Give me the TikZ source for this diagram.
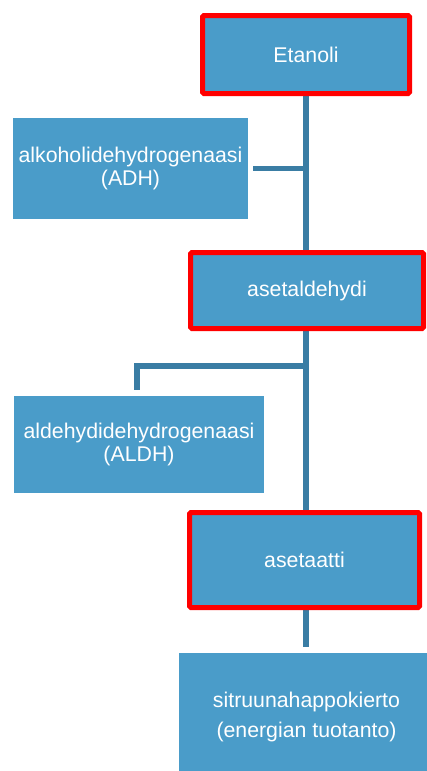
\documentclass[tikz,border=0pt]{standalone}
\usepackage{fontspec}
\setmainfont{Liberation Sans}
\usetikzlibrary{backgrounds}
\definecolor{boxblue}{RGB}{74,156,201}
\definecolor{lineblue}{RGB}{58,125,164}
\definecolor{hired}{RGB}{255,0,0}
\begin{document}
\begin{tikzpicture}[x=1pt,y=-1pt,
  box/.style={fill=boxblue, draw=none, text=white, font=\fontsize{21.3}{23}\selectfont, align=center, inner sep=0pt, anchor=center},
  keybox/.style={box, draw=hired, line width=5pt, rounded corners=1.5pt},
  link/.style={draw=lineblue, line width=5.5pt}]
\useasboundingbox (0,0) rectangle (426,771);
\node[keybox, minimum width=207pt, minimum height=78pt] (etanoli) at (306,54.5) {Etanoli};
\node[box, minimum width=235pt, minimum height=101pt] (adh) at (130.5,168.5) {alkoholidehydrogenaasi\\(ADH)};
\node[keybox, minimum width=233pt, minimum height=76pt] (asetaldehydi) at (307,290.5) {asetaldehydi};
\node[box, minimum width=250pt, minimum height=97pt] (aldh) at (139,444.5) {aldehydidehydrogenaasi\\(ALDH)};
\node[keybox, minimum width=230pt, minimum height=95pt] (asetaatti) at (304.5,560) {asetaatti};
\node[box, minimum width=255pt, minimum height=128pt, font=\fontsize{21.3}{30}\selectfont] (sitruuna) at (306.5,717) {sitruunahappokierto\\(energian tuotanto)};
\begin{scope}[on background layer]
  \coordinate (adhend) at ([xshift=5pt]adh.east);
  \coordinate (aldhtop) at ([xshift=-2pt,yshift=6pt]aldh.north);
  \coordinate (aldhj) at (306,366);
  \draw[link] (etanoli.south) -- (etanoli.south |- asetaldehydi.north);
  \draw[link] (adhend) -- (adhend -| etanoli.south);
  \draw[link] (asetaldehydi.south -| etanoli.south) -- (etanoli.south |- asetaatti.north);
  \draw[link] (aldhtop) |- (aldhj);
  \draw[link] (asetaatti.south -| etanoli.south) -- ([yshift=6pt]sitruuna.north -| etanoli.south);
\end{scope}
\end{tikzpicture}
\end{document}
